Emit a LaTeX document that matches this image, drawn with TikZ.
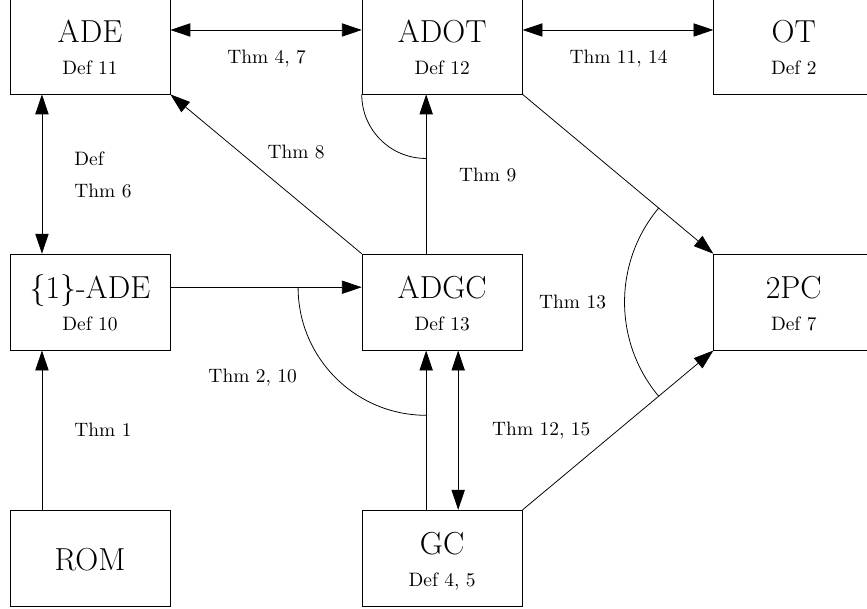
\documentclass[tikz,border=0pt]{standalone}
\usetikzlibrary{arrows.meta}
\begin{document}
\begin{tikzpicture}[>={Triangle[length=3.6mm,width=2.4mm]},
    box/.style={draw, minimum width=2.9cm, minimum height=1.74cm, inner sep=0pt},
    title/.style={anchor=base, inner sep=0pt, font=\fontsize{16.4}{20}\selectfont},
    defn/.style={anchor=base, inner sep=0pt},
    thm/.style={anchor=base west, inner sep=0pt}]
    \useasboundingbox (-1.63,0.833) rectangle (14.076,-10.199);

    % Top row
    \node[box] (ade) at (0,0) {};
    \node[title] (ade-t) at ([yshift=0.07cm]ade.center) {ADE};
    \node[defn] (ade-d) at ([yshift=-0.51cm]ade.center) {Def 11};
    \node[box] (adot) at (6.38,0) {};
    \node[title] (adot-t) at ([yshift=0.07cm]adot.center) {ADOT};
    \node[defn] (adot-d) at ([yshift=-0.51cm]adot.center) {Def 12};
    \node[box] (ot) at (12.75,0) {};
    \node[title] (ot-t) at ([yshift=0.07cm]ot.center) {OT};
    \node[defn] (ot-d) at ([yshift=-0.51cm]ot.center) {Def 2};

    % Middle row
    \node[box] (oneade) at (0,-4.64) {};
    \node[title] (oneade-t) at ([yshift=0.07cm]oneade.center) {\{1\}-ADE};
    \node[defn] (oneade-d) at ([yshift=-0.51cm]oneade.center) {Def 10};
    \node[box] (adgc) at (6.38,-4.64) {};
    \node[title] (adgc-t) at ([yshift=0.07cm]adgc.center) {ADGC};
    \node[defn] (adgc-d) at ([yshift=-0.51cm]adgc.center) {Def 13};
    \node[box] (tpc) at (12.75,-4.64) {};
    \node[title] (tpc-t) at ([yshift=0.07cm]tpc.center) {2PC};
    \node[defn] (tpc-d) at ([yshift=-0.51cm]tpc.center) {Def 7};

    % Bottom row
    \node[box] (rom) at (0,-9.28) {};
    \node[title] (rom-t) at ([yshift=-0.22cm]rom.center) {ROM};
    \node[box] (gc) at (6.38,-9.28) {};
    \node[title] (gc-t) at ([yshift=0.07cm]gc.center) {GC};
    \node[defn] (gc-d) at ([yshift=-0.51cm]gc.center) {Def 4, 5};

    % Arrows
    \draw[<->] ([yshift=0.29cm]ade.east) -- ([yshift=0.29cm]adot.west);
    \draw[<->] ([yshift=0.29cm]adot.east) -- ([yshift=0.29cm]ot.west);
    \draw[<->] ([xshift=-0.87cm]ade.south) -- ([xshift=-0.87cm]oneade.north);
    \draw[->] ([xshift=-0.87cm]rom.north) -- ([xshift=-0.87cm]oneade.south);
    \draw[->] ([yshift=0.27cm]oneade.east) -- ([yshift=0.27cm]adgc.west);
    \draw[->] (adgc.north west) -- (ade.south east);
    \draw[->] ([xshift=-0.29cm]adgc.north) -- ([xshift=-0.29cm]adot.south);
    \draw[->] ([xshift=-0.29cm]gc.north) -- ([xshift=-0.29cm]adgc.south);
    \draw[<->] ([xshift=0.29cm]adgc.south) -- ([xshift=0.29cm]gc.north);
    \draw[->] (adot.south east) -- (tpc.north west);
    \draw[->] (gc.north east) -- (tpc.south west);

    % Arcs
    \draw (adot.south west) arc[start angle=180, end angle=270, radius=1.16cm];
    \coordinate (joinB) at ([xshift=-0.29cm,yshift=0.27cm]adgc.center);
    \draw ([xshift=-2.32cm]joinB) arc[start angle=180, end angle=270, radius=2.32cm];
    \coordinate (joinC) at (intersection of adot.south east--tpc.north west and gc.north east--tpc.south west);
    \draw ([shift={(140:2.66cm)}]joinC) arc[start angle=140, end angle=220, radius=2.66cm];

    % Labels
    \node[thm] (l47) at (2.48,-0.31) {Thm 4, 7};
    \node[thm] (l1114) at (8.68,-0.31) {Thm 11, 14};
    \node[thm] (ldef) at (-0.29,-2.17) {Def};
    \node[thm] (l6) at (-0.29,-2.74) {Thm 6};
    \node[thm] (l8) at (3.21,-2.03) {Thm 8};
    \node[thm] (l9) at (6.68,-2.46) {Thm 9};
    \node[thm] (l13) at (8.13,-4.76) {Thm 13};
    \node[thm] (l210) at (2.14,-6.09) {Thm 2, 10};
    \node[thm] (l1) at (-0.29,-7.08) {Thm 1};
    \node[thm] (l1215) at (7.28,-7.05) {Thm 12, 15};
\end{tikzpicture}
\end{document}
